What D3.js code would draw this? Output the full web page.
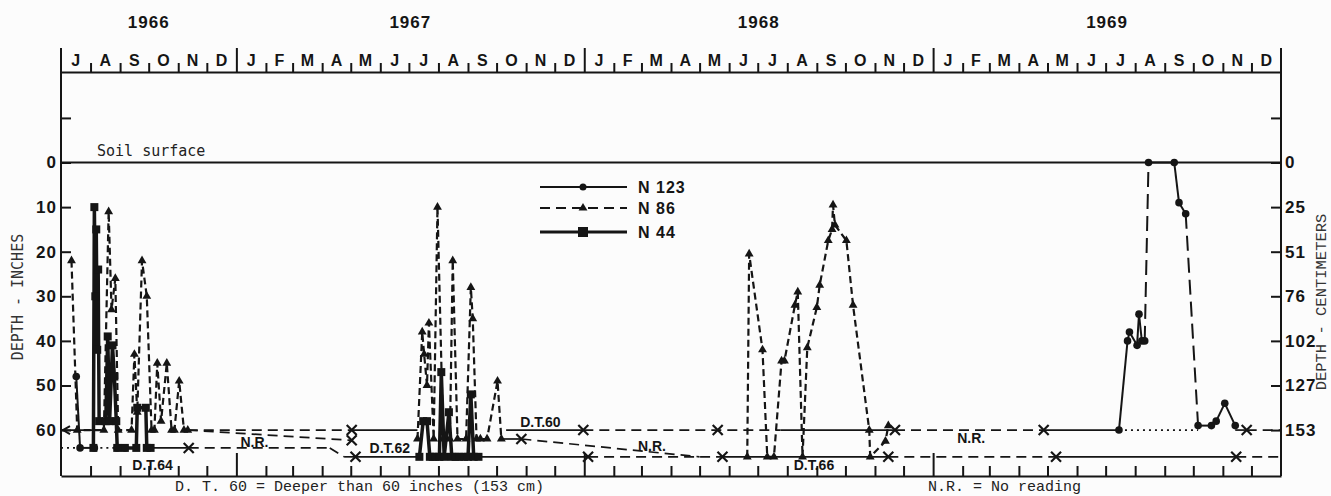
<!DOCTYPE html>
<html>
<head>
<meta charset="utf-8">
<script src="https://cdn.jsdelivr.net/npm/d3@7"></script>
<style>
  body { margin: 0; background: #fcfcfc; }
  svg { display: block; }
  .axis path, .axis line { stroke: #151515; stroke-width: 2; }
  .axis text { fill: #151515; font-family: "Liberation Sans", Arial, sans-serif; font-weight: bold; font-size: 17px; letter-spacing: 1px; }
</style>
</head>
<body>
<div id="chart"></div>
<script>
// ---- data ----
var years = ["1966", "1967", "1968", "1969"];
var monthLetters = ["J", "F", "M", "A", "M", "J", "J", "A", "S", "O", "N", "D"];
var inchTicks = [-10, 0, 10, 20, 30, 40, 50, 60];
var cmLabels = ["", "0", "25", "51", "76", "102", "127", "153"];

// well N 123 : [date, depth in inches, "est" = long-dash segment leading in]
var n123 = [
  ["1966-07-17", 48], ["1966-07-21", 64], ["1966-08-05", 64], ["1966-08-15", null],
  ["1966-08-29", 64], ["1966-09-06", 64], ["1967-01-01", null],
  ["1969-07-15", 60], ["1969-07-24", 40], ["1969-07-26", 38], ["1969-08-03", 41],
  ["1969-08-05", 34], ["1969-08-08", 40], ["1969-08-11", 40], ["1969-08-15", 0, "est"],
  ["1969-09-11", 0], ["1969-09-16", 9], ["1969-09-23", 11.5], ["1969-10-06", 59, "est"],
  ["1969-10-20", 59], ["1969-10-25", 58], ["1969-11-03", 54], ["1969-11-14", 59]
];

// well N 86
var n86 = [
  ["1966-07-12", 22], ["1966-07-18", 60], ["1966-08-15", 60], ["1966-08-20", 11],
  ["1966-08-23", 33], ["1966-08-27", 26], ["1966-08-30", 60], ["1966-09-13", 60],
  ["1966-09-16", 43], ["1966-09-19", 56], ["1966-09-24", 22], ["1966-09-29", 30],
  ["1966-10-04", 60], ["1966-10-07", 60], ["1966-10-10", 45], ["1966-10-14", 58],
  ["1966-10-20", 45], ["1966-10-25", 60], ["1966-10-28", 60], ["1966-11-02", 49],
  ["1966-11-07", 60], ["1966-11-11", 60], ["1967-01-01", null],
  ["1967-07-10", 62], ["1967-07-15", 38], ["1967-07-17", 43], ["1967-07-20", 50],
  ["1967-07-22", 36], ["1967-07-27", 62], ["1967-07-31", 10], ["1967-08-06", 62],
  ["1967-08-13", 62], ["1967-08-16", 22], ["1967-08-21", 62], ["1967-08-30", 62],
  ["1967-09-04", 28], ["1967-09-06", 35], ["1967-09-10", 62], ["1967-09-14", 62],
  ["1967-09-21", 62], ["1967-10-02", 49], ["1967-10-06", 62], ["1968-01-01", null],
  ["1968-06-20", 66], ["1968-06-22", 20.5], ["1968-07-06", 42], ["1968-07-11", 66],
  ["1968-07-18", 66], ["1968-07-26", 44.5], ["1968-07-29", 44.5], ["1968-08-09", 32],
  ["1968-08-12", 29], ["1968-08-17", 66], ["1968-08-22", 41.5], ["1968-09-01", 32.5],
  ["1968-09-04", 27.5], ["1968-09-13", 17.5], ["1968-09-17", 15], ["1968-09-18", 9.5],
  ["1968-09-20", 14], ["1968-10-02", 17.5], ["1968-10-09", 32], ["1968-10-26", 60],
  ["1968-10-27", 66], ["1968-11-12", 62.5], ["1968-11-15", 59]
];

// well N 44
var n44 = [
  ["1966-08-04", 64], ["1966-08-05", 10], ["1966-08-06", 30], ["1966-08-07", 15],
  ["1966-08-08", 42], ["1966-08-09", 24], ["1966-08-10", 58], ["1966-08-17", 58],
  ["1966-08-19", 39], ["1966-08-21", 58], ["1966-08-24", 41], ["1966-08-26", 48],
  ["1966-08-28", 58], ["1966-08-29", 64], ["1966-09-06", 64], ["1966-09-18", 64],
  ["1966-09-19", 55], ["1966-09-28", 55], ["1966-09-29", 64], ["1966-10-03", 64],
  ["1967-01-01", null],
  ["1967-07-12", 66], ["1967-07-16", 58], ["1967-07-20", 58], ["1967-07-23", 66],
  ["1967-07-26", 66], ["1967-07-29", 66], ["1967-08-02", 66], ["1967-08-04", 47],
  ["1967-08-07", 66], ["1967-08-12", 56], ["1967-08-15", 66], ["1967-08-19", 66],
  ["1967-08-23", 66], ["1967-08-28", 66], ["1967-09-01", 66], ["1967-09-04", 52],
  ["1967-09-07", 66], ["1967-09-12", 66]
];

// DT = deeper than, NR = no reading, EST = estimated, OFF = off scale
var baseSegments = [
  ["1966-07-01", 60, "1966-08-04", 60, "OFF"],
  ["1966-11-11", 60, "1967-05-02", 60, "NR"],
  ["1966-11-11", 60, "1967-05-02", 62.3, "NR"],
  ["1967-05-02", 60, "1967-07-10", 60, "DT"],
  ["1967-10-11", 60, "1967-12-31", 60, "DT"],
  ["1967-12-31", 60, "1968-07-25", 60, "NR"],
  ["1968-07-25", 60, "1968-11-22", 60, "DT"],
  ["1968-11-22", 60, "1969-04-27", 60, "NR"],
  ["1969-04-27", 60, "1969-07-15", 60, "DT"],
  ["1969-07-15", 60, "1969-10-06", 60, "EST"],
  ["1969-11-14", 60, "1969-11-26", 60, "DT"],
  ["1969-11-26", 60, "1970-01-01", 60, "NR"],
  ["1967-10-06", 62, "1967-10-27", 62, "DT"],
  ["1967-10-27", 62, "1968-05-01", 66, "NR"],
  ["1966-07-01", 64, "1966-07-21", 64, "EST"],
  ["1966-08-05", 64, "1966-08-29", 64, "EST"],
  ["1966-10-03", 64, "1966-11-12", 64, "DT"],
  ["1966-11-12", 64, "1967-04-09", 64, "NR"],
  ["1967-04-09", 64, "1967-04-24", 66, "NR"],
  ["1967-04-24", 66, "1967-05-06", 66, "NR"],
  ["1967-05-06", 66, "1967-07-12", 66, "DT"],
  ["1967-09-12", 66, "1968-01-05", 66, "DT"],
  ["1968-01-05", 66, "1968-05-25", 66, "NR"],
  ["1968-05-25", 66, "1968-11-15", 66, "DT"],
  ["1968-11-15", 66, "1969-05-10", 66, "NR"],
  ["1969-05-10", 66, "1969-11-15", 66, "DT"],
  ["1969-11-15", 66, "1970-01-01", 66, "NR"]
];

var crossMarks = [
  ["1967-05-02", 60], ["1967-12-31", 60], ["1968-05-20", 60], ["1968-11-22", 60],
  ["1969-04-27", 60], ["1969-11-26", 60], ["1967-05-02", 62.3], ["1967-10-27", 62],
  ["1966-11-12", 64], ["1967-05-06", 66], ["1968-01-05", 66], ["1968-05-25", 66],
  ["1968-11-15", 66], ["1969-05-10", 66], ["1969-11-15", 66]
];

var levelLabels = [
  ["D.T.64", "1966-10-05", 67.9], ["N.R.", "1967-01-20", 62.6],
  ["D.T.62", "1967-06-11", 64.1], ["D.T.60", "1967-11-16", 58.2],
  ["N.R.", "1968-03-12", 63.6], ["D.T.66", "1968-08-29", 67.9],
  ["N.R.", "1969-02-10", 61.8]
];

// ---- chart ----
var ink = "#151515";
var parseDate = d3.timeParse("%Y-%m-%d");
var margin = {top: 72, right: 50, bottom: 20, left: 61},
    width = 1220,
    height = 404;

var svg = d3.select("#chart").append("svg")
    .attr("width", 1331)
    .attr("height", 496);

var g = svg.append("g")
    .attr("transform", "translate(" + margin.left + "," + margin.top + ")");

var xScale = d3.scaleTime()
    .domain([parseDate("1966-07-01"), parseDate("1970-01-01")])
    .range([0, width]);
var yScale = d3.scaleLinear()
    .domain([-20.3, 70.3])
    .range([0, height]);

var months = d3.timeMonth.range(xScale.domain()[0], xScale.domain()[1]);

// top month band
var topAxis = g.append("g").attr("class", "axis")
    .call(d3.axisTop(xScale).tickValues(months.slice(1)).tickSize(9).tickSizeOuter(0).tickFormat(""));
topAxis.selectAll(".tick line").filter(function(d) { return d.getMonth() === 0; }).attr("y2", -24);

g.selectAll(".month").data(months).enter().append("text")
    .attr("x", function(d) { return (xScale(d) + xScale(d3.timeMonth.offset(d, 1))) / 2; })
    .attr("y", -6)
    .attr("text-anchor", "middle")
    .attr("font-family", "Liberation Sans, Arial, sans-serif")
    .attr("font-weight", "bold")
    .attr("font-size", "16px")
    .attr("fill", ink)
    .text(function(d) { return monthLetters[d.getMonth()]; });

g.selectAll(".year").data(years).enter().append("text")
    .attr("x", function(d) {
        var a = Math.max(xScale(parseDate(d + "-01-01")), 0);
        var b = xScale(parseDate((+d + 1) + "-01-01"));
        return (a + b) / 2;
    })
    .attr("y", -44)
    .attr("text-anchor", "middle")
    .attr("font-family", "Liberation Sans, Arial, sans-serif")
    .attr("font-weight", "bold")
    .attr("font-size", "17px")
    .attr("letter-spacing", "1px")
    .attr("fill", ink)
    .text(function(d) { return d; });

// bottom axis
var bottomAxis = g.append("g").attr("class", "axis")
    .attr("transform", "translate(0," + height + ")")
    .call(d3.axisBottom(xScale).tickValues(months.slice(1)).tickSize(-10).tickSizeOuter(0).tickFormat(""));
bottomAxis.selectAll(".tick line").filter(function(d) { return d.getMonth() === 0; }).attr("y2", -23);

// left axis (inches)
var leftAxis = g.append("g").attr("class", "axis")
    .call(d3.axisLeft(yScale).tickValues(inchTicks).tickSize(-10).tickPadding(4)
        .tickFormat(function(d) { return d < 0 ? "" : d; }));
leftAxis.select(".domain").remove();

// right axis (centimetres)
var rightAxis = g.append("g").attr("class", "axis")
    .attr("transform", "translate(" + width + ",0)")
    .call(d3.axisRight(yScale).tickValues(inchTicks).tickSize(-10).tickPadding(4)
        .tickFormat(function(d, i) { return cmLabels[i]; }));
rightAxis.select(".domain").remove();

// frame sides
[0, width].forEach(function(xp) {
    g.append("line")
        .attr("x1", xp).attr("x2", xp)
        .attr("y1", -24).attr("y2", height)
        .attr("stroke", ink).attr("stroke-width", 2);
});

// soil surface
g.append("line")
    .attr("x1", 0).attr("x2", width)
    .attr("y1", yScale(0)).attr("y2", yScale(0))
    .attr("stroke", ink).attr("stroke-width", 1.8);
svg.append("text")
    .attr("x", 97).attr("y", 156)
    .attr("font-family", "DejaVu Sans Mono, monospace")
    .attr("font-size", "15px")
    .attr("fill", "#222")
    .text("Soil surface");

// base lines: deeper than / no reading / estimated
var dashFor = {DT: null, NR: "10,6", EST: "2,4", OFF: null};
g.selectAll(".base").data(baseSegments).enter().append("line")
    .attr("x1", function(d) { return xScale(parseDate(d[0])); })
    .attr("y1", function(d) { return yScale(d[1]); })
    .attr("x2", function(d) { return xScale(parseDate(d[2])); })
    .attr("y2", function(d) { return yScale(d[3]); })
    .attr("stroke", ink)
    .attr("stroke-width", 1.7)
    .attr("stroke-dasharray", function(d) { return dashFor[d[4]]; });

baseSegments.filter(function(d) { return d[4] === "OFF"; }).forEach(function(d) {
    var px = xScale(parseDate(d[0])) + 2, py = yScale(d[1]);
    g.append("path")
        .attr("d", "M" + (px + 7) + "," + (py - 4) + "L" + px + "," + py + "L" + (px + 7) + "," + (py + 4))
        .attr("fill", "none").attr("stroke", ink).attr("stroke-width", 2);
});

g.selectAll(".cross").data(crossMarks).enter().append("path")
    .attr("transform", function(d) { return "translate(" + xScale(parseDate(d[0])) + "," + yScale(d[1]) + ")"; })
    .attr("d", "M-5,-5L5,5M-5,5L5,-5")
    .attr("stroke", ink)
    .attr("stroke-width", 2.2);

// series
function pts(arr) {
    return arr.map(function(d) { return {date: parseDate(d[0]), depth: d[1], est: d[2] === "est"}; });
}
var line = d3.line()
    .defined(function(d) { return d.depth != null; })
    .x(function(d) { return xScale(d.date); })
    .y(function(d) { return yScale(d.depth); });

var s86 = pts(n86), s44 = pts(n44), s123 = pts(n123);

g.append("path").attr("d", line(s86))
    .attr("fill", "none").attr("stroke", ink).attr("stroke-width", 2.2).attr("stroke-dasharray", "7,4");

g.append("path").attr("d", line(s44))
    .attr("fill", "none").attr("stroke", ink).attr("stroke-width", 3.5).attr("stroke-linejoin", "round");

// N 123 drawn segment by segment (long dashes where readings were estimated)
for (var i = 1; i < s123.length; i++) {
    var a = s123[i - 1], b = s123[i];
    if (a.depth == null || b.depth == null) continue;
    g.append("line")
        .attr("x1", xScale(a.date)).attr("y1", yScale(a.depth))
        .attr("x2", xScale(b.date)).attr("y2", yScale(b.depth))
        .attr("stroke", ink).attr("stroke-width", 2)
        .attr("stroke-dasharray", b.est ? "15,7" : null);
}

var tri = d3.symbol().type(d3.symbolTriangle).size(34);
g.selectAll(".m86").data(s86.filter(function(d) { return d.depth != null; })).enter().append("path")
    .attr("transform", function(d) { return "translate(" + xScale(d.date) + "," + yScale(d.depth) + ")"; })
    .attr("d", tri).attr("fill", ink);

g.selectAll(".m44").data(s44.filter(function(d) { return d.depth != null; })).enter().append("rect")
    .attr("x", function(d) { return xScale(d.date) - 4; })
    .attr("y", function(d) { return yScale(d.depth) - 4; })
    .attr("width", 8).attr("height", 8).attr("fill", ink);

g.selectAll(".m123").data(s123.filter(function(d) { return d.depth != null; })).enter().append("circle")
    .attr("cx", function(d) { return xScale(d.date); })
    .attr("cy", function(d) { return yScale(d.depth); })
    .attr("r", 3.8).attr("fill", ink);

// level labels
g.selectAll(".lvl").data(levelLabels).enter().append("text")
    .attr("x", function(d) { return xScale(parseDate(d[1])); })
    .attr("y", function(d) { return yScale(d[2]); })
    .attr("dy", "0.35em")
    .attr("text-anchor", "middle")
    .attr("font-family", "Liberation Sans, Arial, sans-serif")
    .attr("font-weight", "bold")
    .attr("font-size", "14px")
    .attr("fill", ink)
    .text(function(d) { return d[0]; });

// legend
var legend = svg.append("g").attr("transform", "translate(540,187)");
var legendRows = [
    {name: "N 123", key: "n123"},
    {name: "N 86", key: "n86"},
    {name: "N 44", key: "n44"}
];
legendRows.forEach(function(r, i) {
    var ly = [0, 21, 45][i];
    legend.append("line")
        .attr("x1", 0).attr("x2", 87).attr("y1", ly).attr("y2", ly)
        .attr("stroke", ink)
        .attr("stroke-width", r.key === "n44" ? 3 : 2)
        .attr("stroke-dasharray", r.key === "n86" ? "10,6" : null);
    if (r.key === "n123") legend.append("circle").attr("cx", 43).attr("cy", ly).attr("r", 3.5).attr("fill", ink);
    if (r.key === "n86") legend.append("path").attr("transform", "translate(43," + ly + ")").attr("d", tri).attr("fill", ink);
    if (r.key === "n44") legend.append("rect").attr("x", 38).attr("y", ly - 5).attr("width", 10).attr("height", 10).attr("fill", ink);
    legend.append("text")
        .attr("x", 98).attr("y", ly).attr("dy", "0.36em")
        .attr("font-family", "Liberation Sans, Arial, sans-serif")
        .attr("font-weight", "bold")
        .attr("font-size", "16px")
        .attr("letter-spacing", "1px")
        .attr("fill", ink)
        .text(r.name);
});

// axis titles and notes
svg.append("text")
    .attr("transform", "translate(18,297) rotate(-90)")
    .attr("dy", "0.35em")
    .attr("text-anchor", "middle")
    .attr("font-family", "DejaVu Sans Mono, monospace")
    .attr("font-size", "15px")
    .attr("fill", "#333")
    .text("DEPTH - INCHES");

svg.append("text")
    .attr("transform", "translate(1321,302) rotate(-90)")
    .attr("dy", "0.35em")
    .attr("text-anchor", "middle")
    .attr("font-family", "Liberation Mono, Courier New, monospace")
    .attr("font-size", "15.5px")
    .attr("fill", "#333")
    .text("DEPTH - CENTIMETERS");

svg.append("text")
    .attr("x", 175).attr("y", 491)
    .attr("font-family", "Liberation Mono, Courier New, monospace")
    .attr("font-size", "15px")
    .attr("fill", "#222")
    .text("D. T. 60 = Deeper than 60 inches (153 cm)");

svg.append("text")
    .attr("x", 928).attr("y", 491)
    .attr("font-family", "Liberation Mono, Courier New, monospace")
    .attr("font-size", "15px")
    .attr("fill", "#222")
    .text("N.R. = No reading");
</script>
</body>
</html>
